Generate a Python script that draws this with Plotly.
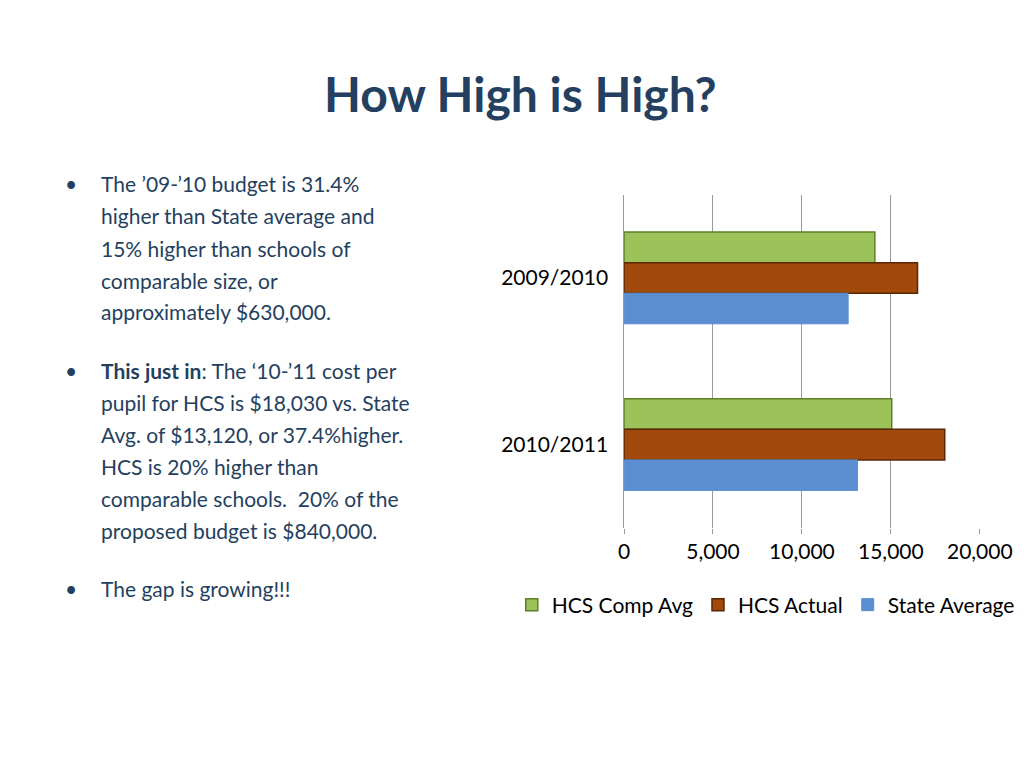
import plotly.graph_objects as go

years = ["2009/2010", "2010/2011"]
comp_avg = [14100, 15050]
hcs_actual = [16500, 18030]
state_avg = [12600, 13120]

bullets = [
    ["The \u201909-\u201910 budget is 31.4%", "higher than State average and",
     "15% higher than schools of", "comparable size, or", "approximately $630,000."],
    ["<b>This just in</b>: The \u201810-\u201911 cost per", "pupil for HCS is $18,030 vs. State",
     "Avg. of $13,120, or 37.4%higher.", "HCS is 20% higher than",
     "comparable schools.  20% of the", "proposed budget is $840,000."],
    ["The gap is growing!!!"],
]

fig = go.Figure()
fig.add_bar(y=years, x=comp_avg, name="HCS Comp Avg", orientation="h",
            marker=dict(color="#9BC35A", line=dict(color="#5E7F2A", width=1.5)))
fig.add_bar(y=years, x=hcs_actual, name="HCS Actual", orientation="h",
            marker=dict(color="#A24A0C", line=dict(color="#5A2604", width=1.5)))
fig.add_bar(y=years, x=state_avg, name="State Average", orientation="h",
            marker=dict(color="#5A8ED0", line=dict(color="#5A8ED0", width=1)))

fig.update_layout(
    width=1024, height=768, margin=dict(l=0, r=0, t=0, b=0, autoexpand=False),
    paper_bgcolor="white", plot_bgcolor="white",
    font=dict(family="Lato", size=21, color="black"),
    barmode="group", bargap=0.45, bargroupgap=0,
    showlegend=True,
    legend=dict(orientation="h", x=0.74, xanchor="center", y=1 - 597 / 768, yanchor="middle",
                font=dict(size=21), traceorder="normal", itemwidth=30),
    xaxis=dict(domain=[0.6016, 0.949], range=[0, 20000], dtick=5000, tickformat=",",
               showgrid=True, gridcolor="#9A9A9A", gridwidth=1, zeroline=False,
               showline=False, ticks="outside", tickcolor="#9A9A9A", ticklen=5,
               automargin=False),
    yaxis=dict(domain=[0.323, 0.757], autorange="reversed", showline=True,
               linecolor="#9A9A9A", ticks="", showgrid=False, ticksuffix="  ",
               automargin=False),
)

fig.add_annotation(text="<b>How High is High?</b>", x=0.5, y=1 - 85 / 768, xref="paper",
                   yref="paper", yanchor="middle", showarrow=False,
                   font=dict(size=48, color="#243F60", family="Lato"))

starts = [176, 362, 580]
for lines, y0 in zip(bullets, starts):
    fig.add_annotation(text="\u2022", x=55 / 1024, y=1 - y0 / 768, xref="paper", yref="paper",
                       xanchor="left", yanchor="middle", showarrow=False,
                       font=dict(size=21, color="#243F60"))
    for i, ln in enumerate(lines):
        fig.add_annotation(text=ln, x=91 / 1024, y=1 - (y0 + 32 * i) / 768,
                           xref="paper", yref="paper", xanchor="left", yanchor="middle",
                           showarrow=False, font=dict(size=21, color="#243F60"))

fig.write_html("out.html")
